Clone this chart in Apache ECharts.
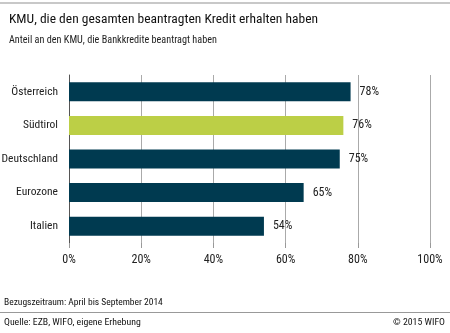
<!DOCTYPE html>
<html><head><meta charset="utf-8">
<script src="https://cdn.jsdelivr.net/npm/echarts@6/dist/echarts.min.js"></script>
<style>html,body{margin:0;padding:0;background:#fff}#c{width:450px;height:333px}</style>
</head><body><div id="c"></div>
<script>
const categories = ['Österreich', 'Südtirol', 'Deutschland', 'Eurozone', 'Italien'];
const values = [78, 76, 75, 65, 54];
const highlight = 'Südtirol';
const xTicks = [0, 20, 40, 60, 80, 100];

const FONT = '"Roboto Condensed", "Roboto", sans-serif';
const chart = echarts.init(document.getElementById('c'));
chart.setOption({
  backgroundColor: '#fff',
  animation: false,
  textStyle: { fontFamily: FONT },
  title: {
    text: 'KMU, die den gesamten beantragten Kredit erhalten haben',
    subtext: 'Anteil an den KMU, die Bankkredite beantragt haben',
    left: 4, top: 8, itemGap: 8,
    textStyle: { fontFamily: FONT, fontSize: 13.5, fontWeight: 'normal', color: '#111' },
    subtextStyle: { fontFamily: FONT, fontSize: 10.2, color: '#222' }
  },
  grid: { left: 69, right: 20, top: 75, bottom: 90, containLabel: false, outerBoundsMode: 'none' },
  xAxis: {
    type: 'value', min: xTicks[0], max: xTicks[xTicks.length - 1], interval: 20,
    axisLine: { show: false },
    axisTick: { show: true, length: 5, lineStyle: { color: '#999' } },
    splitLine: { show: true, lineStyle: { color: '#aaa', width: 1 } },
    axisLabel: { formatter: '{value}%', fontFamily: FONT, fontSize: 12, color: '#222', margin: 11 }
  },
  yAxis: {
    type: 'category', data: categories, inverse: true,
    axisLine: { show: true, lineStyle: { color: '#555', width: 1 } },
    axisTick: { show: false },
    axisLabel: { fontFamily: FONT, fontSize: 11.5, color: '#222', margin: 11 }
  },
  series: [{
    type: 'bar', barWidth: 19,
    data: categories.map((c, i) => ({
      value: values[i],
      itemStyle: { color: c === highlight ? '#bccf46' : '#003a50' }
    })),
    label: { show: true, position: 'right', distance: 9, formatter: '{c}%', fontFamily: FONT, fontSize: 12, color: '#222' }
  }],
  graphic: [
    { type: 'rect', shape: { x: 0, y: 2, width: 450, height: 2 }, style: { fill: '#c8c8c8' } },
    { type: 'text', left: 4, top: 298, style: { text: 'Bezugszeitraum: April bis September 2014', font: '9.5px ' + FONT, fill: '#111' } },
    { type: 'rect', shape: { x: 0, y: 312, width: 450, height: 1 }, style: { fill: '#999' } },
    { type: 'text', left: 4, top: 318, style: { text: 'Quelle: EZB, WIFO, eigene Erhebung', font: '9.8px ' + FONT, fill: '#111' } },
    { type: 'text', right: 5, top: 318, style: { text: '© 2015 WIFO', font: '9.8px ' + FONT, fill: '#111' } }
  ]
});
</script></body></html>
